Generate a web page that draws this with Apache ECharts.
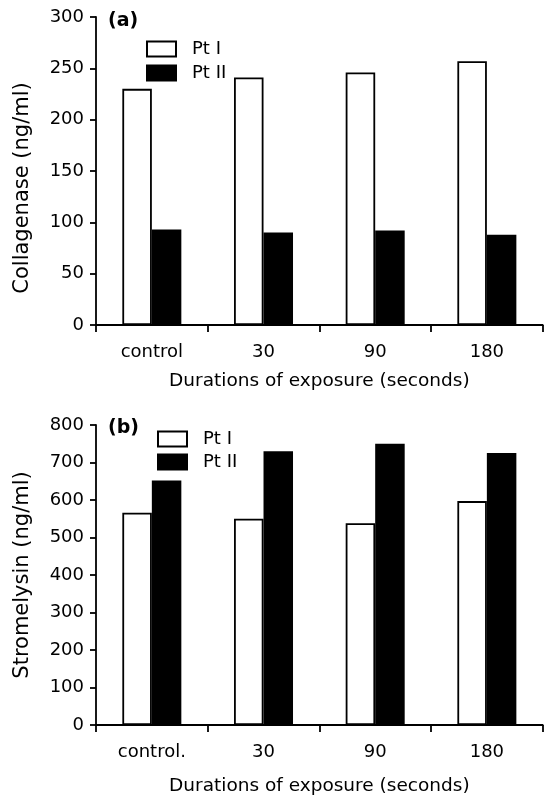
<!DOCTYPE html>
<html>
<head>
<meta charset="utf-8">
<script src="https://cdn.jsdelivr.net/npm/echarts@6/dist/echarts.min.js"></script>
<style>
  html, body { margin: 0; padding: 0; background: #fff; }
  #chart { width: 548px; height: 797px; }
</style>
</head>
<body>
<div id="chart"></div>
<script>
// categories
var catsA = ['control', '30', '90', '180'];
var catsB = ['control.', '30', '90', '180'];
// (a) collagenase, ng/ml
var collPt1 = [230, 241, 246, 257];
var collPt2 = [93, 90, 92, 88];
// (b) stromelysin, ng/ml
var stroPt1 = [566, 550, 538, 597];
var stroPt2 = [652, 730, 750, 725];

var FONT = 'DejaVu Sans';
var black = '#000';

function xAxisOf(idx, cats, gap) {
	return {
		gridIndex : idx,
		type : 'category',
		data : cats,
		name : 'Durations of exposure (seconds)',
		nameLocation : 'middle',
		nameGap : gap,
		nameTextStyle : { fontFamily : FONT, fontSize : 18.5, color : black },
		axisLine : { lineStyle : { color : black, width : 1.8 } },
		axisTick : { show : true, length : 7, lineStyle : { color : black, width : 1.8 } },
		axisLabel : { fontFamily : FONT, fontSize : 18, color : black, margin : 18 }
	};
}

function yAxisOf(idx, name, max, step, pad) {
	return {
		gridIndex : idx,
		type : 'value',
		min : 0,
		max : max,
		interval : step,
		name : name,
		nameLocation : 'middle',
		nameGap : 63,
		nameTextStyle : { fontFamily : FONT, fontSize : 21, color : black, padding : pad },
		splitLine : { show : false },
		axisLine : { show : true, lineStyle : { color : black, width : 1.8 } },
		axisTick : { show : true, length : 6, lineStyle : { color : black, width : 1.8 } },
		axisLabel : { fontFamily : FONT, fontSize : 18, color : black, margin : 12 }
	};
}

function barOf(name, idx, values, fill) {
	return {
		name : name,
		type : 'bar',
		xAxisIndex : idx,
		yAxisIndex : idx,
		barWidth : 29.5,
		barGap : '0%',
		data : values,
		itemStyle : { color : fill, borderColor : black, borderWidth : 1.8 },
		emphasis : { disabled : true },
		animation : false
	};
}

function legendOf(left, top, gap) {
	return {
		orient : 'vertical',
		left : left,
		top : top,
		padding : 0,
		itemGap : gap,
		itemWidth : 29,
		itemHeight : 15,
		icon : 'rect',
		selectedMode : false,
		data : ['Pt I', 'Pt II'],
		textStyle : { fontFamily : FONT, fontSize : 18, color : black, padding : [0, 0, 0, 11] }
	};
}

var chart = echarts.init(document.getElementById('chart'), null, { renderer : 'canvas' });

var option = {
	backgroundColor : '#fff',
	animation : false,
	title : [
		{ text : '(a)', left : 108, top : 12, padding : 0,
		  textStyle : { fontFamily : FONT, fontSize : 19, fontWeight : 'bold', color : black } },
		{ text : '(b)', left : 108, top : 419, padding : 0,
		  textStyle : { fontFamily : FONT, fontSize : 19, fontWeight : 'bold', color : black } }
	],
	legend : [ legendOf(146, 40, 6), legendOf(157, 430, 5) ],
	grid : [
		{ left : 96, top : 17, width : 446.7, height : 308 },
		{ left : 96, top : 425, width : 446.7, height : 306.7 }
	],
	xAxis : [ xAxisOf(0, catsA, 47), xAxisOf(1, catsB, 52) ],
	yAxis : [
		yAxisOf(0, 'Collagenase (ng/ml)', 300, 50, [0, 34, 0, 0]),
		yAxisOf(1, 'Stromelysin (ng/ml)', 800, 100, 0)
	],
	series : [
		barOf('Pt I', 0, collPt1, '#fff'),
		barOf('Pt II', 0, collPt2, black),
		barOf('Pt I', 1, stroPt1, '#fff'),
		barOf('Pt II', 1, stroPt2, black)
	]
};

chart.setOption(option);
</script>
</body>
</html>
